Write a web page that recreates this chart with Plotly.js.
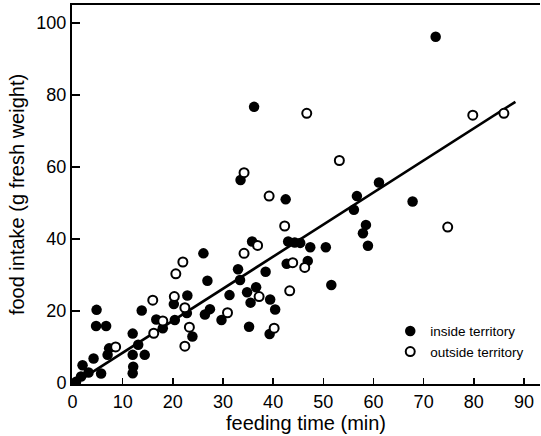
<!DOCTYPE html>
<html>
<head>
<meta charset="utf-8">
<script src="https://cdn.plot.ly/plotly-3.0.1.min.js"></script>
<style>html,body{margin:0;padding:0;background:#fff;}#chart{width:541px;height:436px;}</style>
</head>
<body>
<div id="chart"></div>
<script>
// inside territory (filled)
var insideX = [4.8, 4.7, 6.7, 13.8, 22.9, 20.2, 16.7, 18.0, 20.4, 22.8, 23.9, 12.0, 13.1, 14.4, 12.0, 12.1, 12.0, 7.3, 7.0, 4.2, 2.0, 5.7, 3.2, 1.7, 0.7,
  33.0, 33.4, 26.9, 38.5, 42.7, 46.9, 31.3, 34.8, 36.6, 35.5, 39.4, 40.4, 27.4, 26.4, 29.7, 35.2, 39.3,
  33.5, 42.5, 35.8, 26.1, 43.0, 44.3, 45.4, 47.4, 61.1, 56.7, 56.1, 67.8, 58.5, 57.9, 58.9, 50.5, 51.6, 72.4, 36.2];
var insideY = [20.3, 15.8, 15.8, 20.1, 24.3, 21.9, 17.6, 15.2, 17.5, 19.4, 12.9, 13.7, 10.6, 7.8, 7.8, 4.5, 2.7, 9.6, 7.8, 6.8, 4.9, 2.6, 2.9, 1.8, 0.3,
  31.6, 28.6, 28.4, 30.9, 33.1, 33.9, 24.4, 25.2, 26.6, 22.3, 23.2, 20.4, 20.5, 19.0, 17.5, 15.6, 13.6,
  56.4, 51.0, 39.3, 36.0, 39.3, 39.0, 38.9, 37.7, 55.7, 51.9, 48.1, 50.4, 43.9, 41.6, 38.1, 37.7, 27.2, 96.2, 76.7];
// outside territory (open)
var outsideX = [16.0, 20.6, 22.0, 20.3, 22.4, 18.0, 16.2, 23.3, 22.4, 8.6, 43.9, 46.3, 43.3, 37.2, 30.9, 40.2,
  34.2, 39.2, 42.3, 36.9, 34.2, 53.2, 79.8, 86.0, 46.7, 74.8];
var outsideY = [23.0, 30.3, 33.6, 24.0, 20.9, 17.2, 13.8, 15.5, 10.2, 10.0, 33.4, 32.1, 25.6, 24.0, 19.5, 15.2,
  58.4, 51.9, 43.6, 38.2, 36.0, 61.8, 74.4, 74.9, 74.9, 43.3];
// regression line
var lineX = [0.6, 88.3];
var lineY = [0.0, 78.1];
var xTicks = [0, 10, 20, 30, 40, 50, 60, 70, 80, 90];
var yTicks = [0, 20, 40, 60, 80, 100];

var FONT = 'Liberation Sans, Arial, Helvetica, sans-serif';

var traces = [
  {x: lineX, y: lineY, mode: 'lines', line: {color: '#000', width: 2.6}, showlegend: false, hoverinfo: 'skip'},
  {x: insideX, y: insideY, mode: 'markers', name: 'inside territory',
   marker: {symbol: 'circle', size: 10.5, color: '#000', line: {width: 0}}},
  {x: outsideX, y: outsideY, mode: 'markers', name: 'outside territory',
   marker: {symbol: 'circle', size: 9, color: '#fff', line: {color: '#000', width: 2}}}
];

var layout = {
  width: 541, height: 436,
  margin: {l: 72, r: 1, t: 5, b: 52},
  paper_bgcolor: '#fff', plot_bgcolor: '#fff',
  font: {family: FONT, color: '#000', size: 14},
  showlegend: true,
  legend: {x: 0.68, y: 0.18, xanchor: 'left', yanchor: 'top', bgcolor: 'rgba(0,0,0,0)',
    font: {family: FONT, size: 13.5, color: '#000'}, tracegroupgap: 0, itemwidth: 30},
  xaxis: {
    range: [-0.1, 93.2], tickvals: xTicks, ticktext: xTicks.map(String),
    ticks: 'inside', ticklen: 6, tickwidth: 1.5, tickcolor: '#000',
    showline: true, linecolor: '#000', linewidth: 2, mirror: true,
    showgrid: false, zeroline: false,
    tickfont: {family: FONT, size: 18},
    title: {text: 'feeding time (min)', font: {family: FONT, size: 20}, standoff: 4}
  },
  yaxis: {
    range: [-0.3, 105], tickvals: yTicks, ticktext: yTicks.map(String),
    ticks: 'inside', ticklen: 8, tickwidth: 1.5, tickcolor: '#000',
    showline: true, linecolor: '#000', linewidth: 2,
    showgrid: false, zeroline: false,
    tickfont: {family: FONT, size: 18},
    title: {text: 'food intake (g fresh weight)', font: {family: FONT, size: 20}, standoff: 6}
  }
};

Plotly.newPlot('chart', traces, layout, {staticPlot: true, displayModeBar: false});
</script>
</body>
</html>
